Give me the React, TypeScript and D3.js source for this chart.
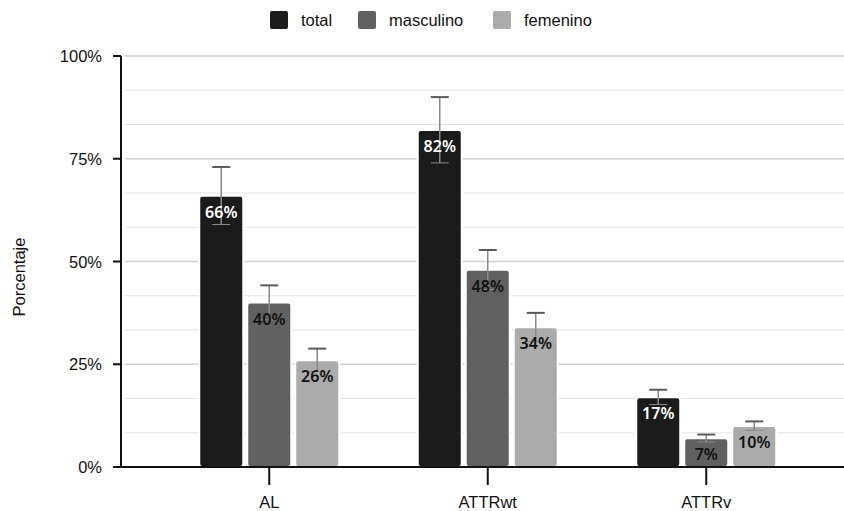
import React, { useEffect, useRef } from 'react';
import * as d3 from 'd3';

const categories = ['AL', 'ATTRwt', 'ATTRv'];
const seriesNames = ['total', 'masculino', 'femenino'];
const seriesColors = ['#1b1b1b', '#606060', '#ababab'];
const labelColors = ['#ffffff', '#111111', '#111111'];

// values per series, in category order (%)
const totalValues = [66, 82, 17];
const masculinoValues = [40, 48, 7];
const femeninoValues = [26, 34, 10];

// error (half-width, %) per series
const totalErrors = [7, 8, 1.8];
const masculinoErrors = [4.2, 4.8, 0.9];
const femeninoErrors = [2.8, 3.5, 1.1];

const yTicks = [0, 25, 50, 75, 100];

const W = 844;
const H = 511;

export default function App() {
  const svgRef = useRef<SVGSVGElement>(null);

  useEffect(() => {
    if (!svgRef.current) return;
    document.body.style.margin = '0';

    const svg = d3.select(svgRef.current);
    svg.selectAll('*').remove();

    const left = 121;
    const top = 56;
    const bottom = 467;
    const font = '"Liberation Sans", Arial, sans-serif';
    const fs = 16.5;

    const y = d3.scaleLinear().domain([0, 100]).range([bottom, top]);
    const x = d3.scaleBand().domain(categories).range([160, 815.5]).padding(0);
    const xSub = d3.scaleBand().domain(seriesNames).range([0, 140]).paddingInner(0.0833);

    const values = [totalValues, masculinoValues, femeninoValues];
    const errors = [totalErrors, masculinoErrors, femeninoErrors];

    // gridlines: minor (thirds) then major
    const minor = d3.range(0, 100, 25 / 3).filter((v, i) => i % 3 !== 0);
    svg.append('g')
      .selectAll('line')
      .data(minor)
      .enter()
      .append('line')
      .attr('x1', left + 4)
      .attr('x2', W)
      .attr('y1', d => y(d))
      .attr('y2', d => y(d))
      .attr('stroke', '#e4e4e4')
      .attr('stroke-width', 1.2);

    svg.append('g')
      .selectAll('line')
      .data(yTicks.filter(d => d > 0))
      .enter()
      .append('line')
      .attr('x1', left + 4)
      .attr('x2', W)
      .attr('y1', d => y(d))
      .attr('y2', d => y(d))
      .attr('stroke', '#cfcfcf')
      .attr('stroke-width', 1.5);

    // bars
    const groups = svg.append('g')
      .selectAll('g')
      .data(categories)
      .enter()
      .append('g')
      .attr('transform', d => `translate(${(x(d) as number) + x.bandwidth() / 2 - 70},0)`);

    seriesNames.forEach((s, si) => {
      groups.append('rect')
        .attr('x', xSub(s) as number)
        .attr('y', (_, i) => y(values[si][i]))
        .attr('width', xSub.bandwidth())
        .attr('height', (_, i) => bottom - y(values[si][i]))
        .attr('rx', 3)
        .attr('fill', seriesColors[si])
        .attr('stroke', '#ffffff')
        .attr('stroke-width', 2);

      // error bars
      const cx = (xSub(s) as number) + xSub.bandwidth() / 2;
      groups.append('line')
        .attr('x1', cx)
        .attr('x2', cx)
        .attr('y1', (_, i) => y(values[si][i] + errors[si][i]))
        .attr('y2', (_, i) => y(values[si][i] - errors[si][i]))
        .attr('stroke', '#8a8a8a')
        .attr('stroke-width', 1.5);
      groups.append('line')
        .attr('x1', cx - 9)
        .attr('x2', cx + 9)
        .attr('y1', (_, i) => y(values[si][i] + errors[si][i]))
        .attr('y2', (_, i) => y(values[si][i] + errors[si][i]))
        .attr('stroke', '#5a5a5a')
        .attr('stroke-width', 2);
      groups.append('line')
        .attr('x1', cx - 9)
        .attr('x2', cx + 9)
        .attr('y1', (_, i) => y(values[si][i] - errors[si][i]))
        .attr('y2', (_, i) => y(values[si][i] - errors[si][i]))
        .attr('stroke', '#8a8a8a')
        .attr('stroke-width', 1);

      // value labels
      groups.append('text')
        .attr('x', cx)
        .attr('y', (_, i) => y(values[si][i]) + 22)
        .attr('text-anchor', 'middle')
        .attr('fill', labelColors[si])
        .attr('font-family', '"Noto Sans", sans-serif')
        .attr('font-weight', 600)
        .attr('font-size', 16)
        .text((_, i) => `${values[si][i]}%`);
    });

    // y axis
    svg.append('line')
      .attr('x1', left).attr('x2', left)
      .attr('y1', top).attr('y2', bottom + 1)
      .attr('stroke', '#111').attr('stroke-width', 2);
    svg.append('g')
      .selectAll('line')
      .data(yTicks)
      .enter()
      .append('line')
      .attr('x1', left - 8).attr('x2', left)
      .attr('y1', d => y(d)).attr('y2', d => y(d))
      .attr('stroke', '#111').attr('stroke-width', 2);
    svg.append('g')
      .selectAll('text')
      .data(yTicks)
      .enter()
      .append('text')
      .attr('x', left - 19)
      .attr('y', d => y(d) + 6)
      .attr('text-anchor', 'end')
      .attr('font-family', font)
      .attr('font-size', fs)
      .attr('fill', '#111')
      .text(d => `${d}%`);

    // x axis
    svg.append('line')
      .attr('x1', left - 8).attr('x2', W)
      .attr('y1', bottom).attr('y2', bottom)
      .attr('stroke', '#111').attr('stroke-width', 2);
    svg.append('g')
      .selectAll('line')
      .data(categories)
      .enter()
      .append('line')
      .attr('x1', d => (x(d) as number) + x.bandwidth() / 2)
      .attr('x2', d => (x(d) as number) + x.bandwidth() / 2)
      .attr('y1', bottom).attr('y2', bottom + 18)
      .attr('stroke', '#111').attr('stroke-width', 2);
    svg.append('g')
      .selectAll('text')
      .data(categories)
      .enter()
      .append('text')
      .attr('x', d => (x(d) as number) + x.bandwidth() / 2)
      .attr('y', 508)
      .attr('text-anchor', 'middle')
      .attr('font-family', font)
      .attr('font-size', fs)
      .attr('fill', '#111')
      .text(d => d);

    // y title
    svg.append('text')
      .attr('transform', `translate(25,277) rotate(-90)`)
      .attr('text-anchor', 'middle')
      .attr('font-family', font)
      .attr('font-size', fs)
      .attr('fill', '#111')
      .text('Porcentaje');

    // legend
    const legendX = [270, 358, 493];
    const legend = svg.append('g')
      .selectAll('g')
      .data(seriesNames)
      .enter()
      .append('g')
      .attr('transform', (_, i) => `translate(${legendX[i]},11)`);
    legend.append('rect')
      .attr('width', 18).attr('height', 18).attr('rx', 2)
      .attr('fill', (_, i) => seriesColors[i]);
    legend.append('text')
      .attr('x', 31).attr('y', 15)
      .attr('font-family', font)
      .attr('font-size', fs)
      .attr('fill', '#111')
      .text(d => d);
  }, []);

  return (
    <svg ref={svgRef} width={W} height={H} style={{ display: 'block', background: '#fff' }} />
  );
}
